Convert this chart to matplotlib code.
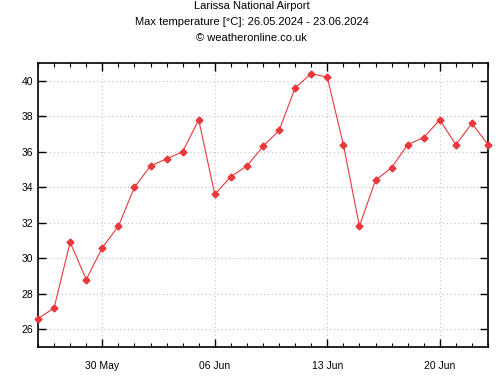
import matplotlib
matplotlib.use("Agg")
import matplotlib.pyplot as plt
import matplotlib.dates as mdates
import numpy as np
import datetime as dt

plt.rcParams['font.family'] = ['Liberation Sans', 'DejaVu Sans']

start = dt.date(2024, 5, 26)
temps = [26.6, 27.2, 30.9, 28.8, 30.6, 31.8, 34.0, 35.2, 35.6, 36.0, 37.8, 33.6,
         34.6, 35.2, 36.3, 37.2, 39.6, 40.4, 40.2, 36.4, 31.8, 34.4, 35.1, 36.4,
         36.8, 37.8, 36.4, 37.6, 36.4]
dates = [start + dt.timedelta(days=i) for i in range(len(temps))]
yticks = [26, 28, 30, 32, 34, 36, 38, 40]
xtick_dates = [dt.date(2024, 5, 30), dt.date(2024, 6, 6), dt.date(2024, 6, 13), dt.date(2024, 6, 20)]

fig = plt.figure(figsize=(5.03, 3.83), dpi=100)
ax = fig.add_axes([38/503, 36/383, 450/503, 284/383])
ax.plot(dates, temps, color='#e8383b', lw=0.8, marker='D', ms=3.5, mec='#e8383b', mfc='#e8383b', zorder=3, clip_on=False)
ax.set_xlim(dates[0], dates[-1])
ax.set_ylim(25, 41)
ax.set_yticks(yticks)
ax.set_xticks(xtick_dates)
ax.xaxis.set_major_formatter(mdates.DateFormatter('%d %b'))
ax.xaxis.set_minor_locator(mdates.DayLocator())
ax.grid(True, which='major', color='#c0c0c0', linestyle=(0, (1, 2.5)), lw=0.8)
ax.tick_params(which='both', direction='in', top=True, right=True, labelsize=7.5, colors='black')
ax.tick_params(which='major', length=6, width=1)
ax.tick_params(which='minor', length=3, width=0.8)
ax.tick_params(axis='x', pad=10)
for s in ax.spines.values():
    s.set_linewidth(1.2)
fig.text(0.5, 1-6/383, 'Larissa National Airport', ha='center', va='center', fontsize=8)
fig.text(0.5, 1-22/383, 'Max temperature [°C]: 26.05.2024 - 23.06.2024', ha='center', va='center', fontsize=8)
fig.text(0.5, 1-38/383, '© weatheronline.co.uk', ha='center', va='center', fontsize=8)
fig.savefig('out.png', dpi=100)
